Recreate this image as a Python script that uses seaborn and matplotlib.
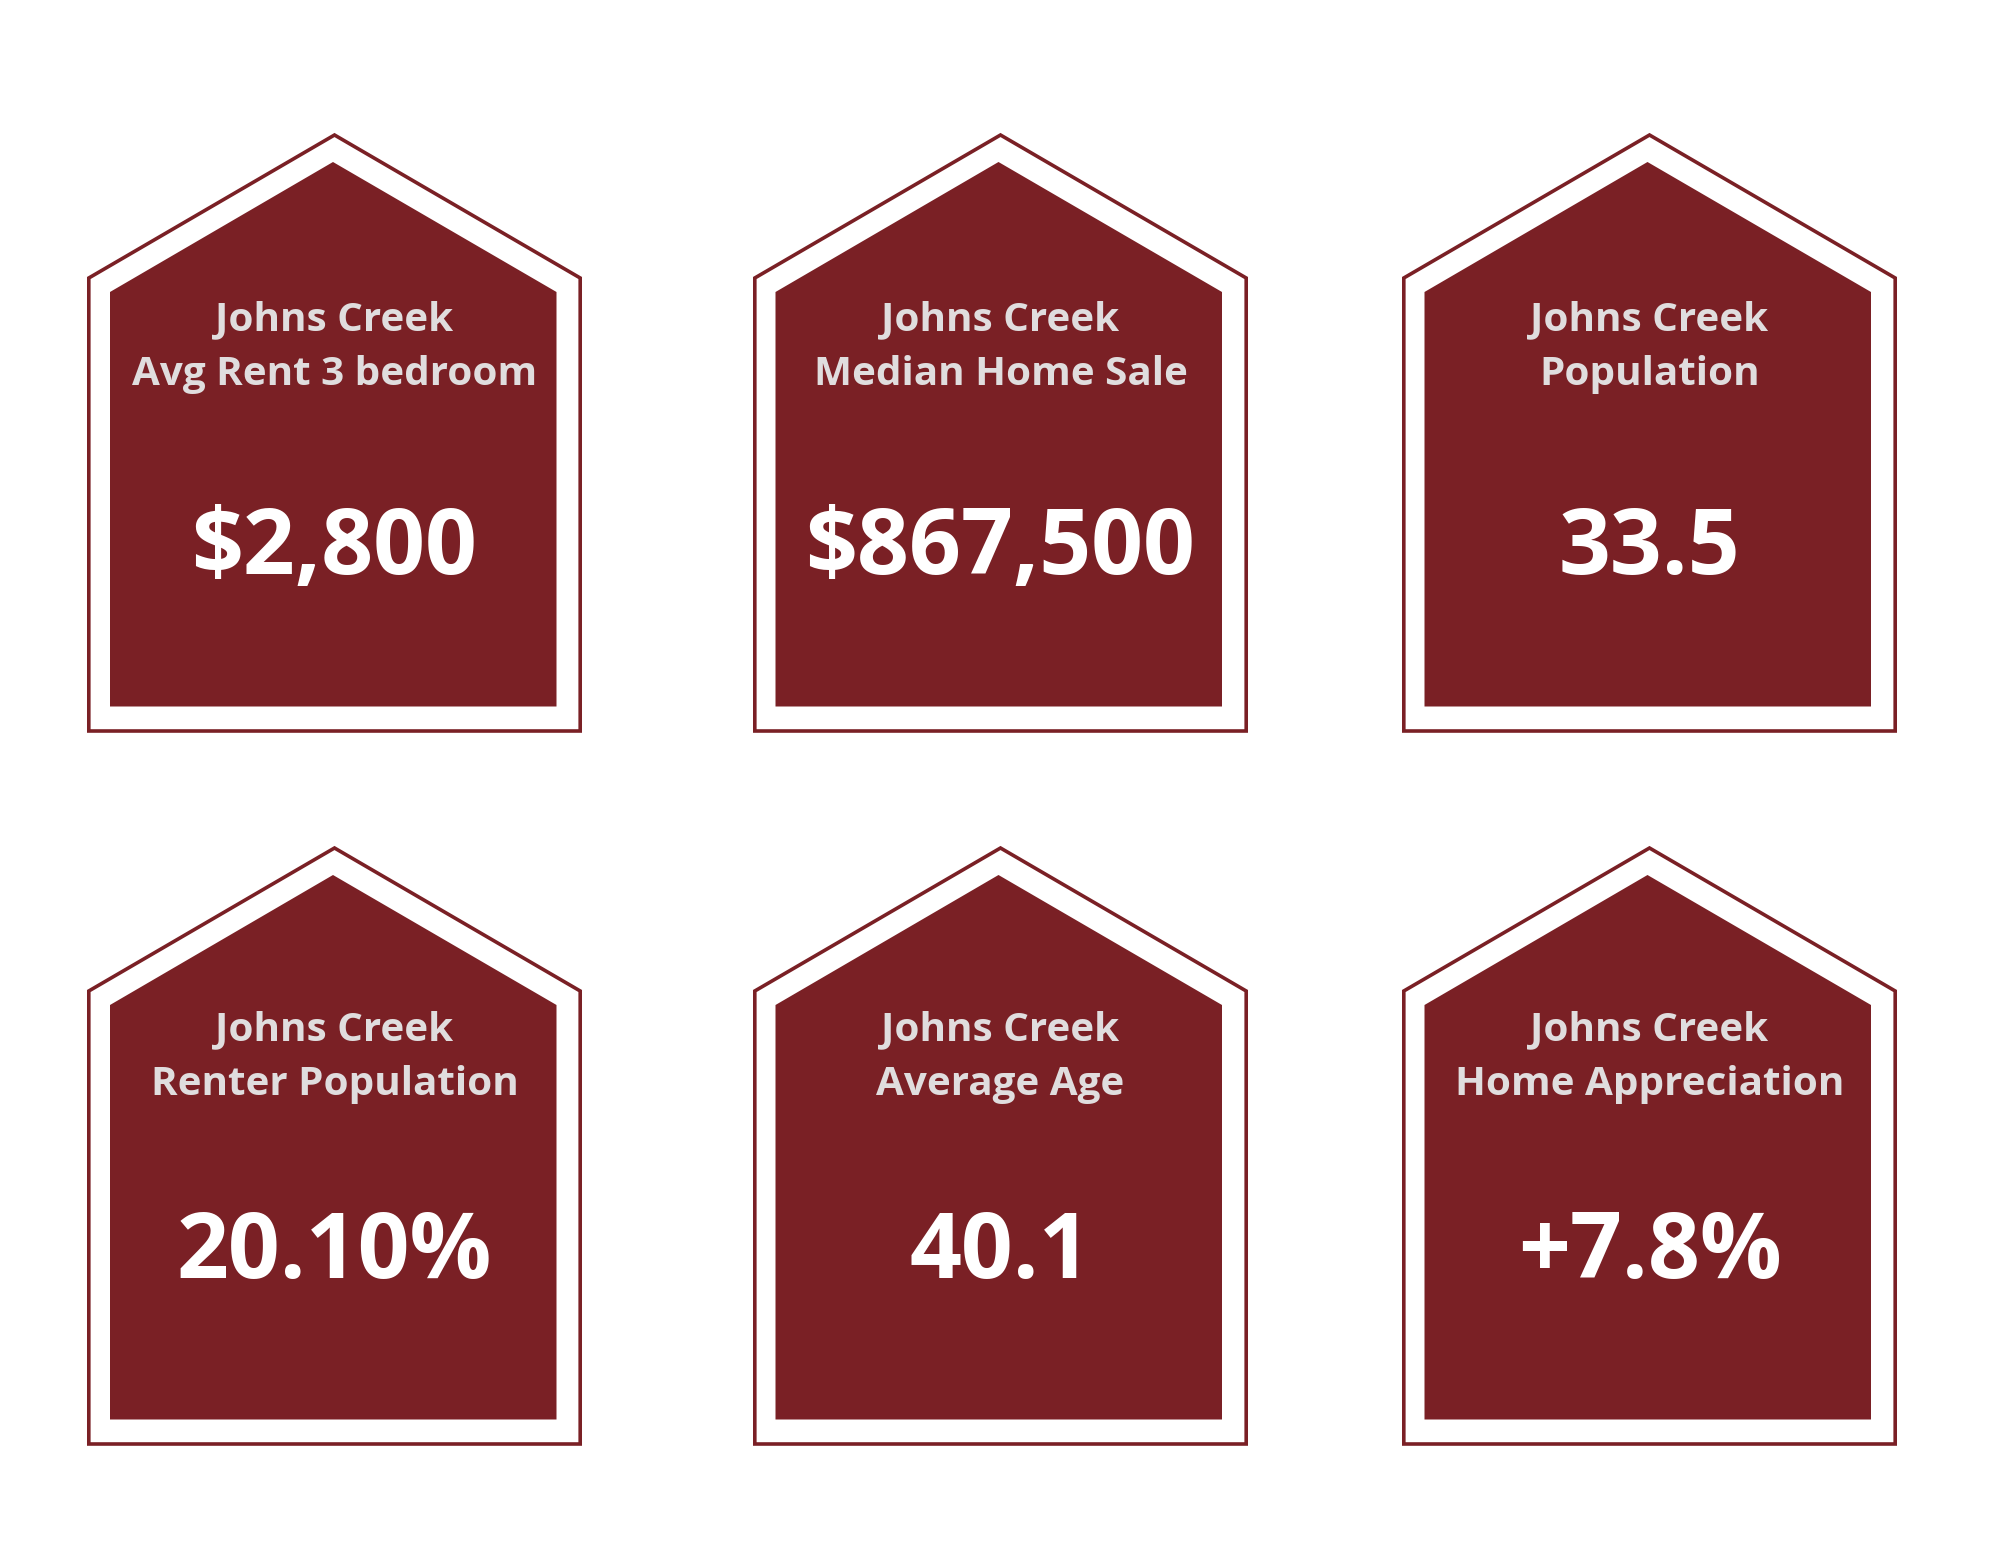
import matplotlib
matplotlib.use("Agg")
import matplotlib.pyplot as plt
import seaborn as sns

place = "Johns Creek"
metrics = ["Avg Rent 3 bedroom", "Median Home Sale", "Population",
           "Renter Population", "Average Age", "Home Appreciation"]
values = ["$2,800", "$867,500", "33.5", "20.10%", "40.1", "+7.8%"]

maroon = "#7A2025"
title_col = "#E0DDDE"

sns.set_theme(style="white")
plt.rcParams["font.family"] = ["Open Sans", "DejaVu Sans"]

fig, ax = plt.subplots(figsize=(20, 15.45), dpi=100)
fig.subplots_adjust(0, 0, 1, 1)
ax.set_xlim(0, 2000)
ax.set_ylim(1545, 0)
ax.set_xticks([])
ax.set_yticks([])
sns.despine(ax=ax, left=True, bottom=True)

col_x = [0, 666, 1315]
inner_x = [0, 665.5, 1314.5]
row_y = [0, 713]
title_y = [[319.5, 374.5], [1029.5, 1084.5]]
value_y = [550, 1254]

for i in range(6):
    r, c = divmod(i, 3)
    dx = col_x[c]
    ix = inner_x[c]
    dy = row_y[r]
    # white house with thin outline
    ax.fill([88.8 + dx, 334.5 + dx, 580.2 + dx, 580.2 + dx, 88.8 + dx],
            [278 + dy, 135 + dy, 278 + dy, 731 + dy, 731 + dy],
            facecolor="white", edgecolor=maroon, linewidth=2.6, joinstyle="miter")
    # solid inner house
    ax.fill([110 + ix, 333 + ix, 556.5 + ix, 556.5 + ix, 110 + ix],
            [292 + dy, 162 + dy, 292 + dy, 706.5 + dy, 706.5 + dy],
            facecolor=maroon, edgecolor="none")
    ax.text(334.5 + dx, title_y[r][0], place, color=title_col, fontsize=29.1,
            fontweight="bold", ha="center", va="center")
    ax.text(334.5 + dx, title_y[r][1], metrics[i], color=title_col, fontsize=29.1,
            fontweight="bold", ha="center", va="center")
    ax.text(334.5 + dx, value_y[r], values[i], color="white", fontsize=65.5,
            fontweight="bold", ha="center", va="center")

fig.savefig("out.png", dpi=100)
